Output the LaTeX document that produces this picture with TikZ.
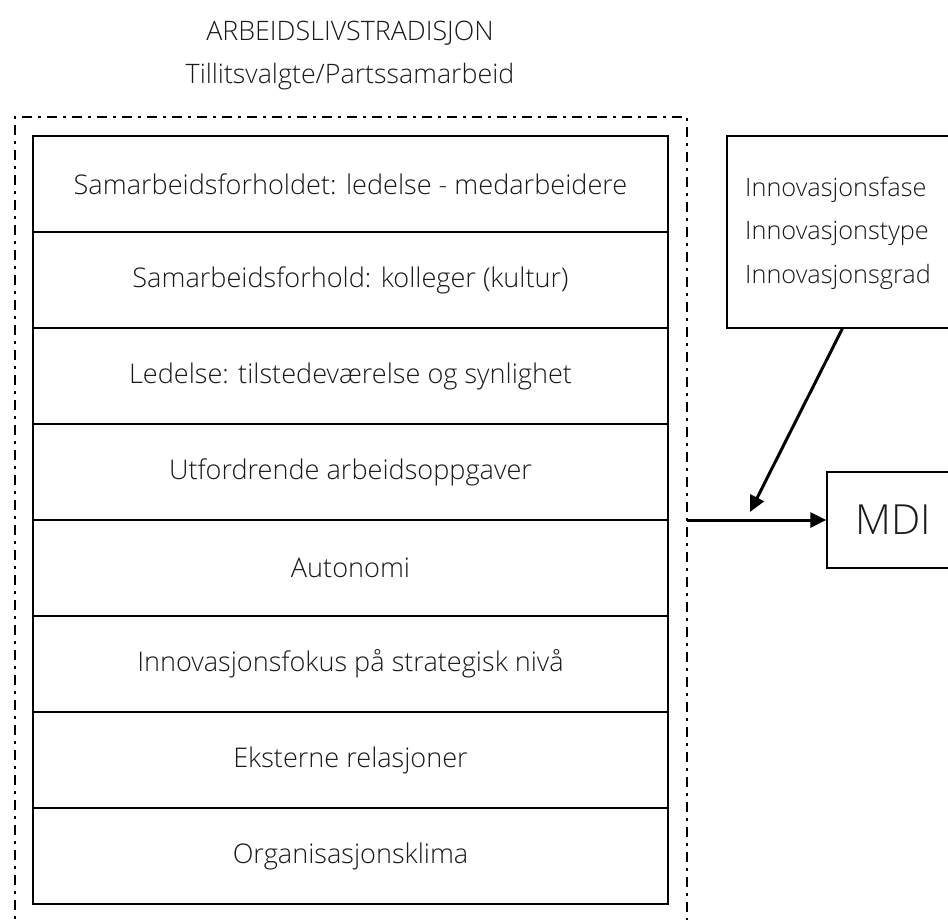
\documentclass[tikz,border=0pt]{standalone}
\usepackage{fontspec}
\setmainfont{Open Sans}[UprightFont=* Light]
\usetikzlibrary{arrows.meta,calc}
\definecolor{ink}{HTML}{1A1A1A}
\tikzset{
  rowbox/.style={draw=black, line width=1.3pt, minimum width=635pt, minimum height=96pt, inner sep=0pt, text=ink, font=\fontsize{27.1}{31}\selectfont},
  plain/.style={text=ink, inner sep=0pt, font=\fontsize{26.8}{31}\selectfont},
  frame/.style={draw=black, line width=2.4pt, dash pattern=on 10pt off 6pt on 3pt off 6pt},
  bigarrow/.style={draw=black, line width=3pt, -{Triangle[length=16pt,width=15pt]}},
}
\begin{document}
\begin{tikzpicture}[x=1pt,y=-1pt]
\useasboundingbox (0,0) rectangle (948,919);
\clip (0,0) rectangle (948,919);
\fill[white] (0,0) rectangle (948,919);
% titles
\node[plain] (title1) at (350,33) {ARBEIDSLIVSTRADISJON};
\node[plain] (title2) at (350,77) {Tillitsvalgte/Partssamarbeid};
% dash-dot frame
\draw[frame] (15,960) -- (15,117) -- (687,117) -- (687,960);
\coordinate (fr) at (687,520);
% rows
\node[rowbox] (r1) at (350.5,184) {Samarbeidsforholdet: ledelse - medarbeidere};
\node[rowbox] (r2) at (350.5,280) {Samarbeidsforhold: kolleger (kultur)};
\node[rowbox] (r3) at (350.5,376) {Ledelse: tilstedeværelse og synlighet};
\node[rowbox] (r4) at (350.5,472) {Utfordrende arbeidsoppgaver};
\node[rowbox] (r5) at (350.5,568) {Autonomi};
\node[rowbox] (r6) at (350.5,664) {Innovasjonsfokus på strategisk nivå};
\node[rowbox] (r7) at (350.5,760) {Eksterne relasjoner};
\node[rowbox] (r8) at (350.5,856) {Organisasjonsklima};
% moderator box
\node[draw=black, line width=1.3pt, minimum width=240pt, minimum height=192pt, inner sep=0pt] (rbox) at (847,232) {};
\node[plain, anchor=west, align=left, font=\fontsize{25.3}{43.5}\selectfont] (rtext) at (745,233) {Innovasjonsfase\\Innovasjonstype\\Innovasjonsgrad};
% MDI
\node[draw=black, line width=1.3pt, minimum width=140pt, minimum height=96pt, inner sep=0pt] (mdi) at (897,520) {};
\node[text=ink, inner sep=0pt, font=\fontsize{41.5}{46}\selectfont] (mditext) at (893,520) {MDI};
% arrows
\draw[bigarrow] (fr) -- (mdi.west);
\coordinate (tip) at (750,512);
\draw[bigarrow] ($(rbox.south west)+(116,0)$) -- (tip);
\end{tikzpicture}
\end{document}
